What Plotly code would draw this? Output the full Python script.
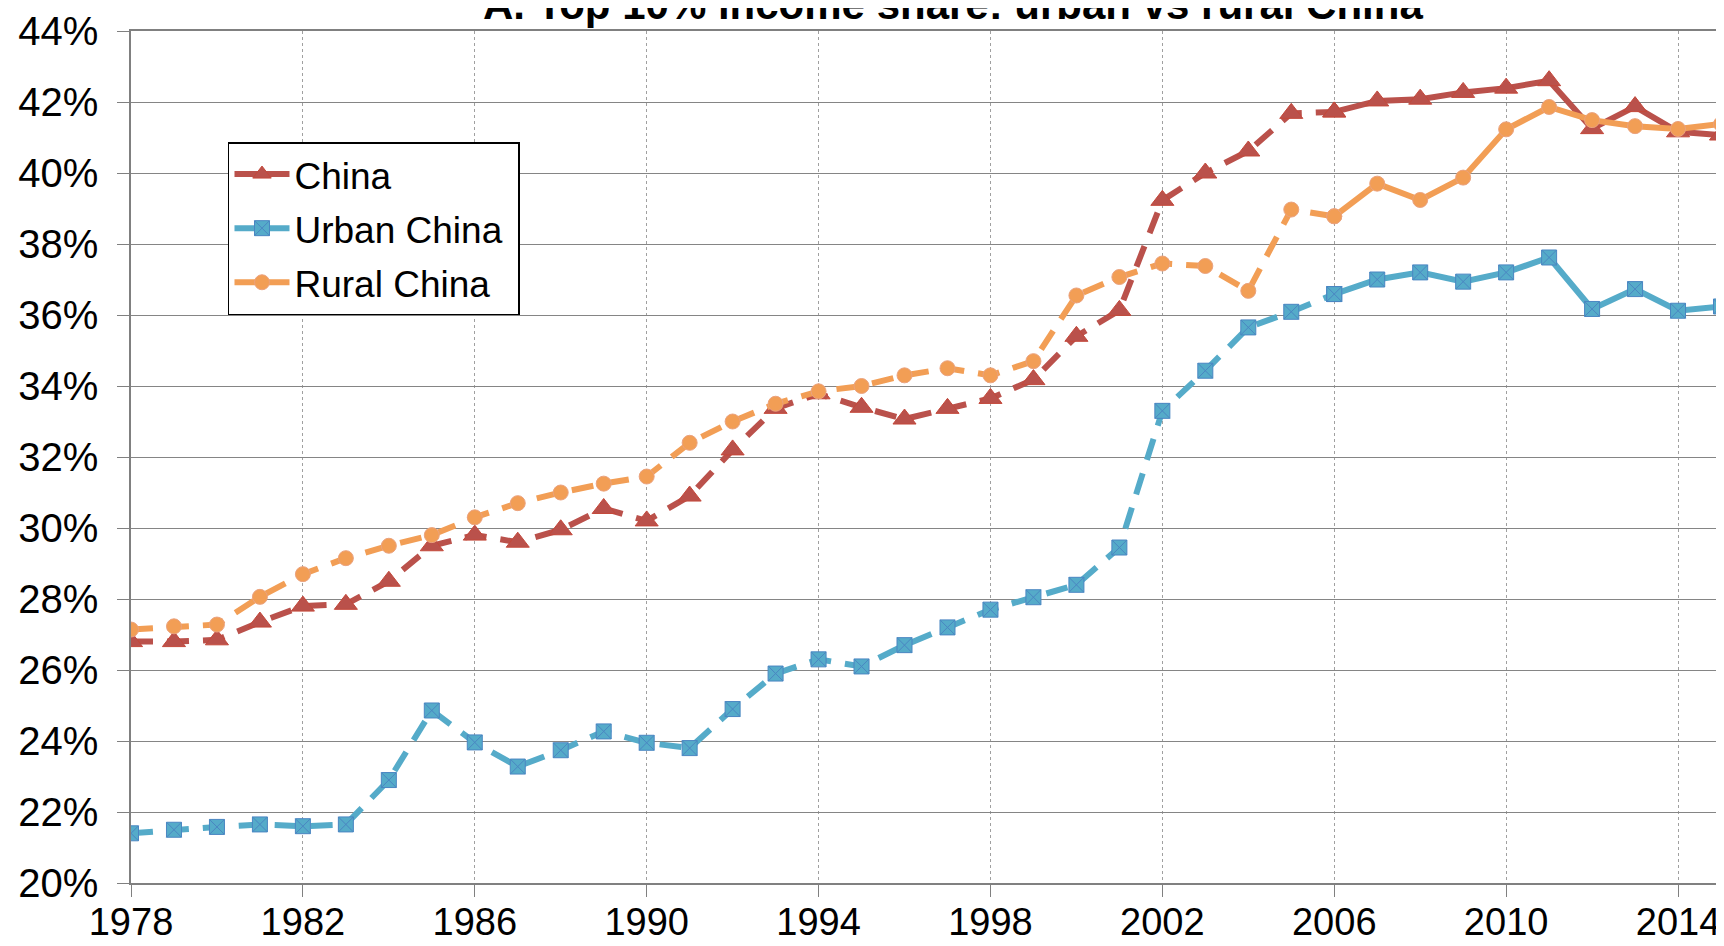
import plotly.graph_objects as go

years = list(range(1978, 2016))

china = [26.8, 26.8, 26.85, 27.35, 27.8, 27.85, 28.5, 29.5, 29.8, 29.6,
         29.95, 30.55, 30.2, 30.9, 32.2, 33.37, 33.78, 33.4, 33.07, 33.37,
         33.65, 34.18, 35.4, 36.13, 39.23, 40.0, 40.62, 41.68, 41.72, 42.03,
         42.08, 42.27, 42.39, 42.6, 41.25, 41.87, 41.16, 41.07]

urban = [21.4, 21.5, 21.58, 21.65, 21.6, 21.65, 22.9, 24.86, 23.96, 23.28,
         23.74, 24.27, 23.95, 23.8, 24.9, 25.9, 26.3, 26.1, 26.7, 27.2,
         27.7, 28.05, 28.4, 29.45, 33.3, 34.43, 35.65, 36.09, 36.59, 37.0,
         37.2, 36.94, 37.2, 37.62, 36.17, 36.73, 36.12, 36.24]

rural = [27.14, 27.23, 27.28, 28.06, 28.7, 29.15, 29.5, 29.8, 30.3, 30.7,
         31.0, 31.25, 31.45, 32.4, 33.0, 33.5, 33.85, 34.0, 34.3, 34.5,
         34.3, 34.7, 36.55, 37.07, 37.45, 37.38, 36.68, 38.97, 38.78, 39.7,
         39.24, 39.87, 41.23, 41.86, 41.49, 41.32, 41.24, 41.38]

# lines are dashed up to 2006, solid afterwards
split_year = 2006

series = [
    ("China", china, "#BA514B", "triangle-up", 20, "#C4483A"),
    ("Urban China", urban, "#55ABC9", "square-x", 15, "#4A86C2"),
    ("Rural China", rural, "#F29E55", "circle", 15, "#EBA27E"),
]

fig = go.Figure()
k = years.index(split_year)

for name, values, color, symbol, size, edge in series:
    marker = dict(symbol=symbol, size=size, color=color,
                  line=dict(color=edge, width=1))
    fig.add_trace(go.Scatter(
        x=years[:k + 1], y=values[:k + 1], mode="lines+markers",
        name=name, showlegend=False, legendgroup=name,
        line=dict(color=color, width=6, dash="22px,14px"),
        marker=marker,
    ))
    # nbsp gives the legend box a little padding on the right
    fig.add_trace(go.Scatter(
        x=years[k:], y=values[k:], mode="lines+markers",
        name=name + "\u00a0", legendgroup=name,
        line=dict(color=color, width=6),
        marker=marker,
    ))

fig.add_annotation(
    text="<b>A. Top 10% income share: urban vs rural China</b>",
    xref="paper", yref="paper", x=0.5168, y=1.0006,
    xanchor="center", yanchor="bottom", showarrow=False,
    font=dict(size=42, color="black", family="Liberation Sans, Arial"),
)

fig.update_xaxes(
    range=[1978, 2015], tick0=1978, dtick=4,
    showgrid=True, gridcolor="#A0A0A0", griddash="dot", gridwidth=1,
    showline=True, linecolor="#808080", linewidth=1.5, mirror=True,
    ticks="outside", ticklen=12, tickcolor="#808080",
    tickfont=dict(size=38, color="black"),
    ticklabelstandoff=-7,
    zeroline=False, automargin=False,
)
fig.update_yaxes(
    range=[20, 44], dtick=2, ticksuffix="%",
    showgrid=True, gridcolor="#858585", gridwidth=1.4,
    showline=True, linecolor="#808080", linewidth=1.5, mirror=True,
    ticks="outside", ticklen=12, tickcolor="#808080",
    tickfont=dict(size=40, color="black"),
    ticklabelstandoff=11,
    zeroline=False, automargin=False,
)

# the page body adds an 8px margin, so the figure is 16px smaller
fig.update_layout(
    width=1716, height=938,
    template="plotly_white",
    paper_bgcolor="white",
    plot_bgcolor="white",
    font=dict(family="Liberation Sans, Arial", color="black"),
    margin=dict(l=123, r=3, t=23, b=63),
    legend=dict(
        x=0.061, y=0.8697, xanchor="left", yanchor="top",
        bgcolor="white", bordercolor="black", borderwidth=1.5,
        font=dict(size=37, color="black"),
        itemwidth=55, tracegroupgap=3,
    ),
)

fig.write_html("out.html")
